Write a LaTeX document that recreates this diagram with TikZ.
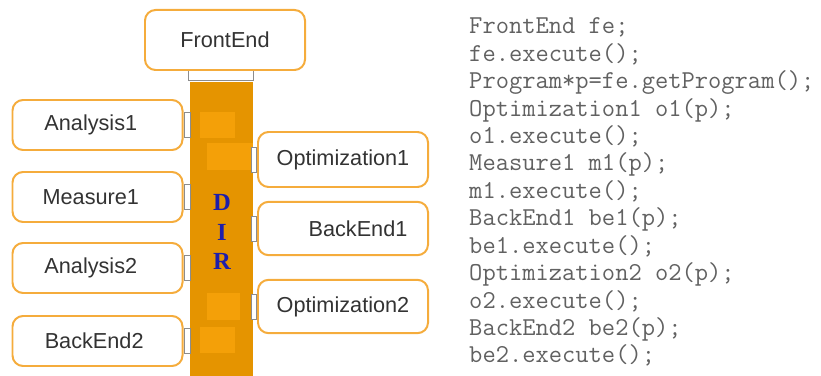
\documentclass[tikz,border=0pt]{standalone}
\usepackage{fontspec}
\setmainfont{Liberation Sans}
\newfontfamily\dirfont{Liberation Serif}
\usetikzlibrary{positioning}
\definecolor{boxedge}{RGB}{245,172,60}
\definecolor{bardark}{RGB}{229,148,0}
\definecolor{barlight}{RGB}{244,160,8}
\definecolor{stubedge}{RGB}{140,140,140}
\definecolor{dirblue}{RGB}{30,30,170}
\tikzset{
  module/.style={draw=boxedge, line width=1.7pt, fill=white, rounded corners=9pt,
    minimum width=5.1cm, minimum height=1.5cm, text=black!80,
    font=\fontsize{18.5}{20}\selectfont},
  stub/.style={draw=stubedge, line width=0.6pt, fill=white, inner sep=0pt,
    minimum width=0.2cm, minimum height=0.75cm},
  codeline/.style={anchor=base west, inner sep=0pt, text=black!62,
    font=\ttfamily\fontsize{22}{26}\selectfont}
}
\begin{document}
\begin{tikzpicture}[x=0.03cm, y=-0.03cm]
\useasboundingbox (0,0) rectangle (821,376);
% DIR bar
\fill[bardark] (190,82) rectangle (253,376);
\fill[barlight] (200,112) rectangle (235,138);
\fill[barlight] (207,143) rectangle (253,170);
\fill[barlight] (207,293) rectangle (240,320);
\fill[barlight] (200,327) rectangle (235,353);
\node[draw=stubedge, line width=0.6pt, fill=white, minimum width=1.95cm,
  minimum height=0.36cm, inner sep=0pt] (cap) at (220.5,74) {};
\node[text=dirblue, font=\dirfont\bfseries\fontsize{21}{25}\selectfont,
  align=center] (dir) at (222,232) {D\\I\\R};
% modules
\node[module, minimum width=4.8cm, minimum height=1.8cm] (fe) at (225,40) {FrontEnd};
\node[module] (an1) at (97.5,125) {Analysis1\hspace*{0.4cm}};
\node[module] (ms1) at (97.5,197) {Measure1\hspace*{0.4cm}};
\node[module] (an2) at (97.5,268) {Analysis2\hspace*{0.4cm}};
\node[module] (be2) at (97.5,341) {BackEnd2\hspace*{0.2cm}};
\node[module, minimum height=1.65cm] (op1) at (343,159.5) {Optimization1};
\node[module, minimum height=1.6cm] (be1) at (343,228.5) {\hspace*{0.9cm}BackEnd1};
\node[module, minimum height=1.6cm] (op2) at (343,306.5) {Optimization2};
% stubs
\node[stub, anchor=west] (s1) at (an1.east) {};
\node[stub, anchor=west] (s2) at (ms1.east) {};
\node[stub, anchor=west] (s3) at (an2.east) {};
\node[stub, anchor=west] (s4) at (be2.east) {};
\node[stub, anchor=east, minimum width=0.15cm] (s5) at (op1.west) {};
\node[stub, anchor=east, minimum width=0.15cm] (s6) at (be1.west) {};
\node[stub, anchor=east, minimum width=0.15cm] (s7) at (op2.west) {};
% code
\foreach \t [count=\i] in {FrontEnd fe;, fe.execute();, Program*p=fe.getProgram();,
  Optimization1 o1(p);, o1.execute();, Measure1 m1(p);, m1.execute();,
  BackEnd1 be1(p);, be1.execute();, Optimization2 o2(p);, o2.execute();,
  BackEnd2 be2(p);, be2.execute();}
  \node[codeline] (code\i) at (469,{34+27.4*(\i-1)}) {\t};
\end{tikzpicture}
\end{document}
